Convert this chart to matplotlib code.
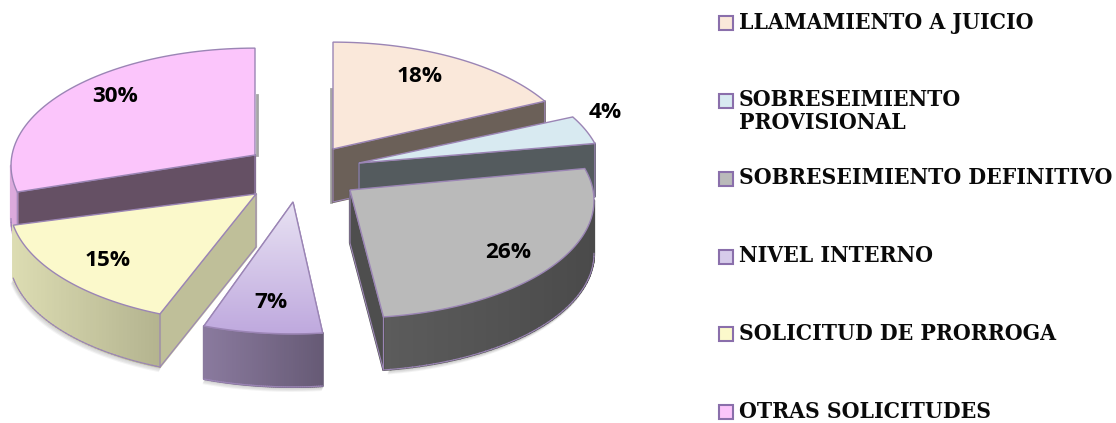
import numpy as np
import matplotlib
matplotlib.use("Agg")
import matplotlib.pyplot as plt
from matplotlib.patches import Polygon, Rectangle
from matplotlib.colors import to_rgb

categories = ["LLAMAMIENTO A JUICIO", "SOBRESEIMIENTO\nPROVISIONAL", "SOBRESEIMIENTO DEFINITIVO",
              "NIVEL INTERNO", "SOLICITUD DE PRORROGA", "OTRAS SOLICITUDES"]
values = [18, 4, 26, 7, 15, 30]

top_colors = ["#fae8da", "#d8eaf1", "#bababa", "#d6cbea", "#fbf9cb", "#fbc5fb"]
radial_colors = ["#6b6058", "#545b5e", "#4e4e4e", "#665a75", "#bfbf99", "#655064"]
arc_left = ["#6b6058", "#545b5e", "#5c5c5c", "#8a7a9e", "#dcdcb2", "#dcaadc"]
arc_right = ["#6b6058", "#545b5e", "#4a4a4a", "#665a75", "#b3b38f", "#b08ab0"]
apex = [(333, 149), (359, 163), (350, 190), (293, 202), (256, 194), (255, 155)]
nudge = [0, 1, 0, 1, 3, 0]
scale = [1, 1, 1, 1.03, 1.01, 1]
label_xy = [(420, 77), (605, 112), (508, 252), (271, 302), (108, 261), (115, 97)]
draw_order = [5, 0, 1, 2, 4, 3]
legend_y = [23, 101, 179, 257, 334, 412]

RX, RY, PERSP, DEPTH = 243.0, 116.5, 0.09, 53.0
EDGE = "#9b85b5"

plt.rcParams["font.family"] = ["DejaVu Serif"]
fig = plt.figure(figsize=(11.16, 4.23), dpi=100)
ax = fig.add_axes([0, 0, 1, 1])
ax.set_xlim(0, 1116)
ax.set_ylim(423, 0)
ax.axis("off")


def project(theta_deg, origin, k=1.0):
    t = np.radians(theta_deg)
    u, v = np.sin(t), np.cos(t)
    s = k / (1.0 + PERSP * v)
    return origin[0] + RX * u * s, origin[1] - RY * v * s


cum = np.cumsum([0] + values) * 3.6
for i in draw_order:
    a0, a1 = cum[i] + nudge[i], cum[i + 1] + nudge[i]
    thetas = np.linspace(a0, a1, 60)
    ax_, ay_ = project(thetas, apex[i], scale[i])
    xs = np.r_[apex[i][0], ax_]
    ys = np.r_[apex[i][1], ay_]
    n = len(xs)
    order = draw_order.index(i) * 10
    # soft shadow under the lower silhouette
    if i != 5:
        idx = [k for k in range(1, n - 1) if xs[k + 1] < xs[k]]
        for off, alpha in ((4, 0.06), (3, 0.08), (2, 0.1), (1, 0.14)):
            if idx:
                ax.plot(xs[idx] - off * 0.5, ys[idx] + DEPTH + off, color="#444444", alpha=alpha,
                        lw=1.5, zorder=order + 1)
    # dark sliver behind the vertical edges of the two rear slices
    if i == 5:
        ax.plot([apex[i][0] + 2] * 2, [apex[i][1] - 60, apex[i][1]], color="#6a6a6a", lw=2, alpha=0.6, zorder=order)
    if i == 0:
        ax.plot([apex[i][0] - 2] * 2, [apex[i][1] - 60, apex[i][1] + DEPTH], color="#6a6a6a", lw=2, alpha=0.6, zorder=order)
    base = order + 2
    xmin, xmax = ax_.min(), ax_.max()
    cl, cr = np.array(to_rgb(arc_left[i])), np.array(to_rgb(arc_right[i]))
    for k in range(n):
        j = (k + 1) % n
        if xs[j] >= xs[k]:
            continue
        quad = [(xs[k], ys[k]), (xs[j], ys[j]), (xs[j], ys[j] + DEPTH), (xs[k], ys[k] + DEPTH)]
        if k == 0 or k == n - 1:
            col = radial_colors[i]
        else:
            f = (0.5 * (xs[k] + xs[j]) - xmin) / max(xmax - xmin, 1)
            col = tuple(cl + (cr - cl) * f)
        ax.add_patch(Polygon(quad, closed=True, fc=col, ec=col, lw=1.6, joinstyle="round", zorder=base))
    for k in range(n):
        j = (k + 1) % n
        if xs[j] >= xs[k]:
            continue
        if k == 0 or k == n - 1:
            ax.plot([xs[k], xs[j], xs[j], xs[k], xs[k]],
                    [ys[k], ys[j], ys[j] + DEPTH, ys[k] + DEPTH, ys[k]],
                    color=EDGE, lw=0.8, zorder=base + 1)
        else:
            ax.plot([xs[k], xs[j]], [ys[k] + DEPTH, ys[j] + DEPTH], color=EDGE, lw=0.8, zorder=base + 1)
    top = Polygon(np.c_[xs, ys], closed=True, fc=top_colors[i], ec=EDGE, lw=1.0, zorder=base + 2)
    ax.add_patch(top)
    if i == 3:  # vertical gradient on the "NIVEL INTERNO" top face
        grad = np.linspace(0, 1, 128)[:, None, None]
        c0, c1 = np.array(to_rgb("#e8e2f3")), np.array(to_rgb("#bfa9de"))
        img = c0 + (c1 - c0) * grad
        im = ax.imshow(img, extent=(xs.min(), xs.max(), ys.max(), ys.min()), aspect="auto",
                       zorder=base + 3, interpolation="bilinear")
        im.set_clip_path(top)
        ax.add_patch(Polygon(np.c_[xs, ys], closed=True, fc="none", ec=EDGE, lw=1.0, zorder=base + 4))
    ax.text(label_xy[i][0], label_xy[i][1], f"{values[i]}%", ha="center", va="center",
            family=["Open Sans", "DejaVu Sans"], fontweight="bold", fontsize=16.2, color="black", zorder=200)

ax.set_xlim(0, 1116)
ax.set_ylim(423, 0)

for name, col, y in zip(categories, top_colors, legend_y):
    ax.add_patch(Rectangle((718.5, y - 7), 14.5, 14.5, fc=col, ec="#8a6fab", lw=1.5, zorder=300))
    ax.text(739, y - 11.5, name, ha="left", va="top", fontweight="bold", fontstretch="condensed",
            fontsize=16.4, color="#0a0a0a", linespacing=1.05, zorder=300)

fig.savefig("out.png", dpi=100, facecolor="white")
